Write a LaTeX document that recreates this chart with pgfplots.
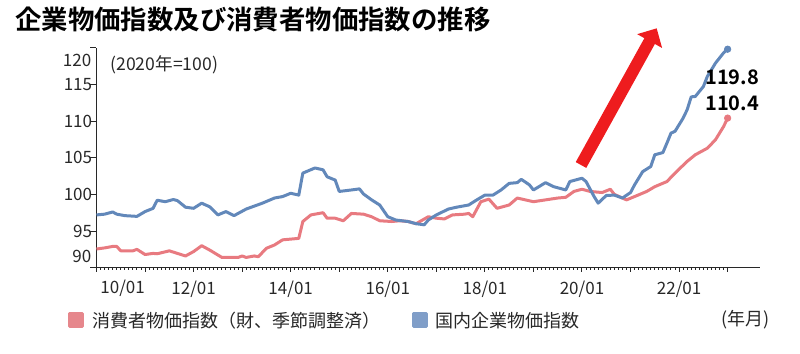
\documentclass[border=0pt]{standalone}
\usepackage{fontspec}
\setmainfont{Noto Sans CJK JP}[BoldFont={Noto Sans CJK JP Bold}]
\usepackage{pgfplots}
\usepackage{pgfplotstable}
\pgfplotsset{compat=1.18}
\usetikzlibrary{arrows.meta}
\definecolor{cblue}{RGB}{98,136,186}
\definecolor{cpink}{RGB}{232,122,128}
\definecolor{lblue}{RGB}{128,158,200}
\definecolor{lpink}{RGB}{230,135,140}
\definecolor{cred}{RGB}{238,28,30}
\definecolor{ctext}{RGB}{40,40,40}

% months since 2010/01
\pgfplotstableread{
m v
0 97.2
2 97.3
4 97.6
5 97.3
7 97.1
10 97.0
12 97.65
14 98.1
15 99.2
17 99.0
19 99.3
20 99.15
22 98.25
24 98.1
26 98.8
28 98.3
30 97.2
32 97.65
34 97.1
37 98.0
40 98.6
41 98.8
44 99.5
46 99.7
48 100.15
50 99.9
51 102.9
54 103.6
56 103.35
57 102.4
59 101.95
60 100.4
63 100.6
65 100.75
66 100.05
68 99.25
70 98.55
72 96.95
74 96.5
77 96.3
79 96.0
81 95.85
82 96.5
84 97.2
87 98.0
89 98.25
92 98.55
94 99.25
96 99.9
98 99.9
100 100.6
102 101.5
104 101.6
105 102.05
107 101.3
108 100.6
111 101.6
113 101.05
116 100.6
117 101.75
120 102.2
121 101.75
123 99.7
124 98.8
126 99.85
128 99.9
130 99.5
132 100.25
133 101.3
135 103.1
137 103.8
138 105.4
140 105.7
141 107.0
142 108.35
143 108.6
145 110.4
146 111.55
147 113.3
148 113.35
150 114.7
151 116.1
153 117.9
155 119.3
156 119.8
}\cgpi

\pgfplotstableread{
m v
0 92.55
2 92.7
4 92.9
5 92.9
6 92.3
9 92.3
10 92.5
12 91.8
14 91.95
15 91.9
18 92.3
20 91.95
22 91.6
24 92.2
26 93.0
28 92.4
31 91.4
33 91.4
35 91.4
36 91.6
37 91.4
39 91.6
40 91.5
42 92.65
44 93.1
46 93.8
48 93.9
50 94.0
51 96.3
53 97.2
56 97.5
57 96.75
59 96.75
61 96.4
63 97.4
66 97.3
68 96.95
70 96.4
73 96.3
75 96.4
77 96.3
79 96.0
82 96.95
84 96.75
86 96.65
88 97.2
91 97.3
92 97.4
93 96.95
95 99.0
97 99.35
99 98.1
102 98.55
104 99.5
106 99.25
108 99.0
111 99.25
114 99.5
116 99.6
118 100.4
120 100.7
122 100.4
125 100.25
127 100.7
128 100.0
131 99.25
133 99.7
136 100.4
138 101.05
141 101.75
143 102.9
146 104.5
148 105.4
151 106.3
153 107.45
155 109.25
156 110.4
}\cpi

\pgfplotstableread{
m v
156 119.8
}\cgpiend
\pgfplotstableread{
m v
156 110.4
}\cpiend

\begin{document}
\begin{tikzpicture}
\begin{scope}[x=0.5pt,y=-0.5pt]
\useasboundingbox (0,0) rectangle (800,354);
\end{scope}
\begin{axis}[
  at={(48.25pt,-133.85pt)}, anchor=south west,
  scale only axis, width=331.75pt, height=110pt,
  xmin=0, xmax=164, ymin=90, ymax=120,
  axis x line*=bottom, axis y line*=left,
  axis line style={-, draw=ctext, line width=0.6pt},
  tick align=outside,
  xtick={0,12,...,156},
  xticklabels={,,12/01,,14/01,,16/01,,18/01,,20/01,,22/01,},
  minor x tick num=11,
  major tick length=2pt, minor tick length=1pt,
  ytick style={/pgfplots/major tick length=3pt},
  ytick={90,95,...,120},
  yticklabels={,95,100,105,110,115,},
  tick style={draw=ctext, line width=0.5pt},
  ticklabel style={font=\fontsize{8.5pt}{8.5pt}\selectfont, text=ctext},
  xticklabel style={anchor=north, inner sep=0pt, yshift=-4.5pt},
  yticklabel style={anchor=east, inner sep=0pt},
  /pgf/number format/assume math mode=true,
  clip=false,
  legend style={at={(-0.0432,-0.2364)}, anchor=west, draw=none, fill=none,
    inner sep=0pt, legend columns=2,
    font=\fontsize{9pt}{9pt}\selectfont, text=ctext,
    nodes={inner sep=0pt, text depth=0pt},
    cells={anchor=west},
    /tikz/every odd column/.append style={column sep=4.15pt},
    /tikz/every even column/.append style={column sep=15.8pt}},
]
\addplot[cpink, line width=1.5pt, line join=round,
  legend image code/.code={\fill[lpink] (0pt,-3.175pt) rectangle (6.35pt,3.175pt);}]
  table[x=m,y=v] {\cpi};
\addlegendentry{消費者物価指数（財、季節調整済）}
\addplot[cblue, line width=1.5pt, line join=round,
  legend image code/.code={\fill[lblue] (0pt,-3.175pt) rectangle (6.35pt,3.175pt);}]
  table[x=m,y=v] {\cgpi};
\addlegendentry{国内企業物価指数}
\addplot[cpink, only marks, mark=*, mark size=1.6pt, forget plot] table[x=m,y=v] {\cpiend};
\addplot[cblue, only marks, mark=*, mark size=1.6pt, forget plot] table[x=m,y=v] {\cgpiend};
\end{axis}
\begin{scope}[x=0.5pt,y=-0.5pt]
\node[anchor=west, inner sep=0pt, font=\bfseries\fontsize{13.2pt}{13.2pt}\selectfont, text=black] at (15,19.7) {企業物価指数及び消費者物価指数の推移};
\node[anchor=east, inner sep=0pt, font=\fontsize{8.5pt}{8.5pt}\selectfont, text=ctext] at (91.7,60.7) {120};
\node[anchor=east, inner sep=0pt, font=\fontsize{8.5pt}{8.5pt}\selectfont, text=ctext] at (91.7,256.7) {90};
\node[anchor=north west, inner sep=0pt, font=\fontsize{8.5pt}{8.5pt}\selectfont, text=ctext] at (100,280) {10/01};
\node[anchor=west, inner sep=0pt, font=\fontsize{8.8pt}{8.8pt}\selectfont, text=ctext] at (110,65) {(2020年=100)};
\node[anchor=east, inner sep=0pt, font=\fontsize{9pt}{9pt}\selectfont, text=ctext] at (770,319.7) {(年月)};
\node[anchor=east, inner sep=0pt, font=\bfseries\fontsize{10pt}{10pt}\selectfont, text=black] at (759.3,77.5) {119.8};
\node[anchor=east, inner sep=0pt, font=\bfseries\fontsize{10pt}{10pt}\selectfont, text=black] at (759.3,103) {110.4};
\draw[cred, line width=6pt, -{Triangle[length=7.3pt, width=13.8pt]}] (581,165) -- (656.7,28.3);
\end{scope}
\end{tikzpicture}
\end{document}
